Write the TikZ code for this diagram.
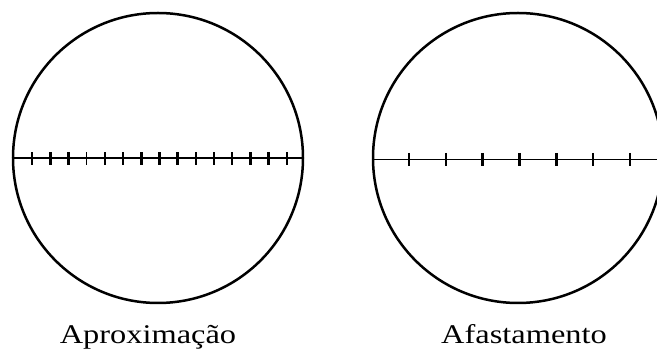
\documentclass[tikz,border=0pt]{standalone}
\usepackage{fontspec}
\setmainfont{Liberation Serif}
\begin{document}
\begin{tikzpicture}[x=1pt,y=-1pt,
  lens/.style={draw, circle, line width=2.5pt, minimum size=290pt, inner sep=0pt},
  axis/.style={line width=1.8pt},
  tick/.style={line width=1.6pt},
  thicktick/.style={line width=2.6pt},
  lbl/.style={font=\fontsize{27}{29}\selectfont, anchor=base, inner sep=0pt, xscale=1.2}]
\path[use as bounding box] (0,0) rectangle (657,355);
\begin{scope}
\clip (0,0) rectangle (657,355);
\node[lens] (c1) at (158,158) {};
\node[lens] (c2) at (518,158) {};
\coordinate (e2) at (657,159.5);
\draw[axis] (c1.west) -- (c1.east);
\draw[axis] (c2.west) ++(0,1.5) -- (e2);
\foreach \k/\s in {0/thicktick,1/thicktick,2/thicktick,3/tick,4/tick,5/tick,6/thicktick,7/thicktick,8/thicktick,9/tick,10/tick,11/tick,12/thicktick,13/thicktick,14/tick}{
  \draw[\s] ({32+18.2*\k},152.5) -- ({32+18.2*\k},165);
}
\foreach \k/\s in {0/tick,1/tick,2/thicktick,3/thicktick,4/thicktick,5/thicktick,6/tick}{
  \draw[\s] ({409+36.8*\k},153) -- ({409+36.8*\k},166);
}
\end{scope}
\node[lbl] (l1) at (148,344) {Aproximação};
\node[lbl] (l2) at (524,344) {Afastamento};
\end{tikzpicture}
\end{document}
